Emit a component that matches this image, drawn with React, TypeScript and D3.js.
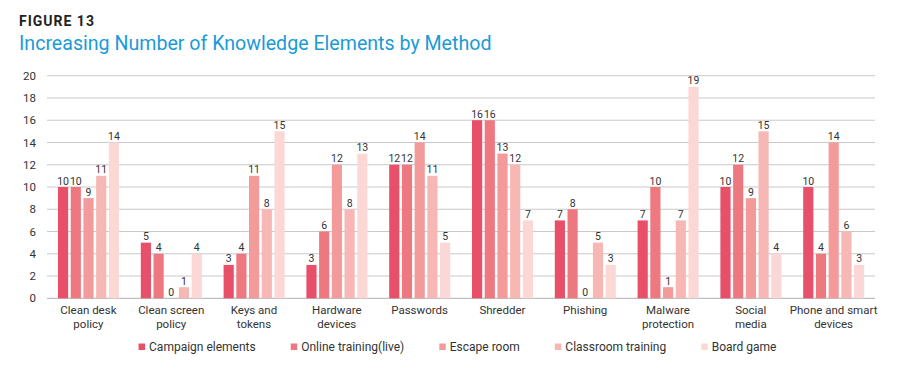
import React, { useEffect, useRef } from "react";
import * as d3 from "d3";

const categories = [
  "Clean desk policy",
  "Clean screen policy",
  "Keys and tokens",
  "Hardware devices",
  "Passwords",
  "Shredder",
  "Phishing",
  "Malware protection",
  "Social media",
  "Phone and smart devices",
];
const categoryLines = [
  ["Clean desk", "policy"],
  ["Clean screen", "policy"],
  ["Keys and", "tokens"],
  ["Hardware", "devices"],
  ["Passwords"],
  ["Shredder"],
  ["Phishing"],
  ["Malware", "protection"],
  ["Social", "media"],
  ["Phone and smart", "devices"],
];
const seriesNames = [
  "Campaign elements",
  "Online training(live)",
  "Escape room",
  "Classroom training",
  "Board game",
];
const campaignElements = [10, 5, 3, 3, 12, 16, 7, 7, 10, 10];
const onlineTraining = [10, 4, 4, 6, 12, 16, 8, 10, 12, 4];
const escapeRoom = [9, 0, 11, 12, 14, 13, 0, 1, 9, 14];
const classroomTraining = [11, 1, 8, 8, 11, 12, 5, 7, 15, 6];
const boardGame = [14, 4, 15, 13, 5, 7, 3, 19, 4, 3];
const seriesValues = [campaignElements, onlineTraining, escapeRoom, classroomTraining, boardGame];
const colors = ["#E8506A", "#EE787F", "#F29B9A", "#F6B7B5", "#FBD8D6"];
const yTicks = [0, 2, 4, 6, 8, 10, 12, 14, 16, 18, 20];

const FONT = "Roboto, 'Noto Sans', sans-serif";

export default function App() {
  const ref = useRef<SVGSVGElement>(null);
  useEffect(() => {
    const svg = d3.select(ref.current);
    svg.selectAll("*").remove();

    const left = 47, right = 875, top = 75.7, bottom = 298.3;
    const y = d3.scaleLinear().domain([0, 20]).range([bottom, top]);
    const x0 = d3.scaleBand().domain(categories).range([left, right]).padding(0);
    const x1 = d3.scaleBand().domain(seriesNames).range([11, 72]).paddingInner(0.2).paddingOuter(0);

    // titles
    svg.append("text").attr("x", 19).attr("y", 26).text("FIGURE 13")
      .attr("font-family", FONT).attr("font-size", 14).attr("font-weight", 700)
      .attr("letter-spacing", 1).attr("fill", "#222");
    svg.append("text").attr("x", 19).attr("y", 50).text("Increasing Number of Knowledge Elements by Method")
      .attr("font-family", FONT).attr("font-size", 19.6).attr("fill", "#1B9AD7");

    // grid
    const g = svg.append("g");
    g.selectAll("line.grid").data(yTicks).join("line")
      .attr("x1", left).attr("x2", right)
      .attr("y1", (d) => y(d)).attr("y2", (d) => y(d))
      .attr("stroke", (d) => (d === 0 ? "#b0b0b0" : "#c9c9c9")).attr("stroke-width", 1);
    g.selectAll("text.ytick").data(yTicks).join("text")
      .attr("x", 36).attr("y", (d) => y(d)).attr("dy", "0.35em")
      .attr("text-anchor", "end").text((d) => d)
      .attr("font-family", FONT).attr("font-size", 11.5).attr("fill", "#333");

    // bars
    categories.forEach((cat, ci) => {
      const gx = x0(cat)!;
      seriesNames.forEach((s, si) => {
        const v = seriesValues[si][ci];
        const bx = gx + x1(s)!;
        svg.append("rect").attr("x", bx).attr("width", x1.bandwidth())
          .attr("y", y(v)).attr("height", Math.max(0, y(0) - y(v)))
          .attr("fill", colors[si]);
        svg.append("text").attr("x", bx + x1.bandwidth() / 2).attr("y", y(v) - 2.5)
          .attr("text-anchor", "middle").text(v)
          .attr("font-family", FONT).attr("font-size", 10.5).attr("fill", "#333");
      });
      const cx = gx + x0.bandwidth() / 2;
      categoryLines[ci].forEach((ln, li) => {
        svg.append("text").attr("text-anchor", "middle")
          .attr("font-family", FONT).attr("font-size", 11.5).attr("fill", "#333")
          .attr("x", cx).attr("y", 314 + li * 13.5).text(ln);
      });
    });

    // legend
    const lg = svg.append("g");
    const items = seriesNames.map((s, i) => {
      const it = lg.append("g");
      it.append("rect").attr("x", 0).attr("y", 343.5).attr("width", 6.5).attr("height", 6.5).attr("fill", colors[i]);
      const tx = it.append("text").attr("x", 10.5).attr("y", 351).text(s)
        .attr("font-family", FONT).attr("font-size", 12).attr("fill", "#333");
      const w = (tx.node() as SVGTextElement).getComputedTextLength();
      return { it, w: 10.5 + w };
    });
    const gap = 35;
    const total = items.reduce((a, b) => a + b.w, 0) + gap * (items.length - 1);
    let cx = 457.5 - total / 2;
    items.forEach(({ it, w }) => {
      it.attr("transform", `translate(${cx},0)`);
      cx += w + gap;
    });
  }, []);
  return (
    <svg ref={ref} width={900} height={375}
      style={{ position: "absolute", left: 0, top: 0, background: "#fff" }} />
  );
}
